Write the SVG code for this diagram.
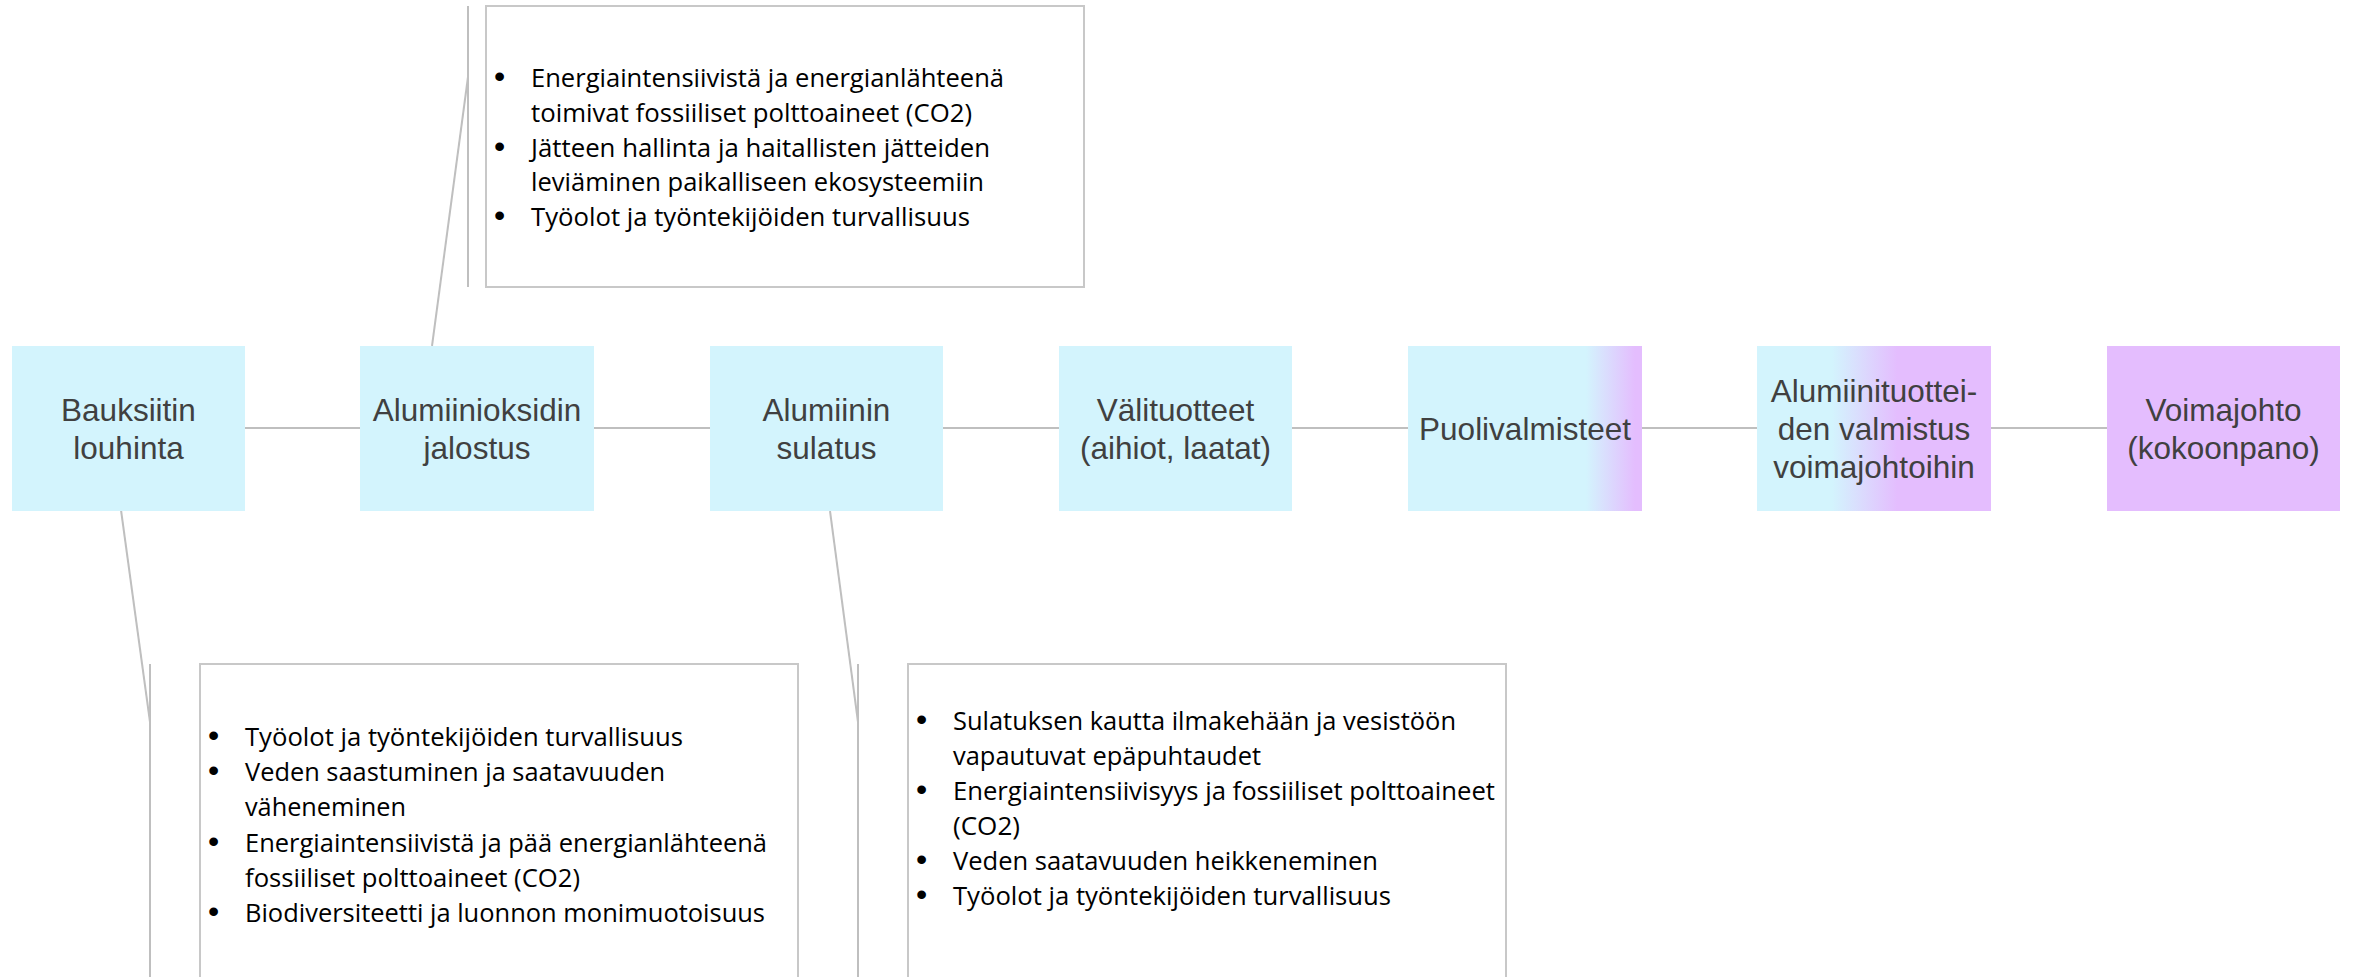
<svg xmlns="http://www.w3.org/2000/svg" width="2354" height="977" viewBox="0 0 2354 977">
<defs>
<linearGradient id="g5" x1="0" y1="0" x2="1" y2="0">
<stop offset="0" stop-color="#D3F4FD"/><stop offset="0.76" stop-color="#D3F4FD"/><stop offset="0.97" stop-color="#E4BDFE"/><stop offset="1" stop-color="#E4BDFE"/>
</linearGradient>
<linearGradient id="g6" x1="0" y1="0" x2="1" y2="0">
<stop offset="0" stop-color="#D3F4FD"/><stop offset="0.32" stop-color="#D3F4FD"/><stop offset="0.6" stop-color="#E4BDFE"/><stop offset="1" stop-color="#E4BDFE"/>
</linearGradient>
<style>
.node{fill:#D3F4FD}
.lbl{font-family:"Liberation Sans",Arial,sans-serif;font-size:31.5px;fill:#404040;text-anchor:middle}
.conn{stroke:#BFBFBF;stroke-width:2;fill:none}
.call{fill:#FFFFFF;stroke:#C8C8C8;stroke-width:2}
.ct{font-family:"Open Sans","Liberation Sans",sans-serif;font-size:25.5px;fill:#000000}
.bul{font-family:"Liberation Sans",Arial,sans-serif;font-size:32px;fill:#000000;text-anchor:middle}
</style>
</defs>
<rect width="2354" height="977" fill="#FFFFFF"/>
<g id="connectors">
<line class="conn" x1="245" y1="428" x2="360" y2="428"/>
<line class="conn" x1="594" y1="428" x2="710" y2="428"/>
<line class="conn" x1="943" y1="428" x2="1059" y2="428"/>
<line class="conn" x1="1292" y1="428" x2="1408" y2="428"/>
<line class="conn" x1="1642" y1="428" x2="1757" y2="428"/>
<line class="conn" x1="1991" y1="428" x2="2107" y2="428"/>
<line class="conn" x1="468" y1="77" x2="432" y2="346"/>
<line class="conn" x1="468" y1="6" x2="468" y2="287"/>
<line class="conn" x1="121" y1="510" x2="150" y2="722"/>
<line class="conn" x1="150" y1="664" x2="150" y2="980"/>
<line class="conn" x1="830" y1="511" x2="858" y2="722"/>
<line class="conn" x1="858" y1="664" x2="858" y2="980"/>
</g>
<g id="n1"><rect class="node" x="12" y="346" width="233" height="165"/>
<text class="lbl" x="128.5" y="420.5">Bauksiitin</text><text class="lbl" x="128.5" y="458.5">louhinta</text></g>
<g id="n2"><rect class="node" x="360" y="346" width="234" height="165"/>
<text class="lbl" x="477" y="420.5">Alumiinioksidin</text><text class="lbl" x="477" y="458.5">jalostus</text></g>
<g id="n3"><rect class="node" x="710" y="346" width="233" height="165"/>
<text class="lbl" x="826.5" y="420.5">Alumiinin</text><text class="lbl" x="826.5" y="458.5">sulatus</text></g>
<g id="n4"><rect class="node" x="1059" y="346" width="233" height="165"/>
<text class="lbl" x="1175.5" y="420.5">Välituotteet</text><text class="lbl" x="1175.5" y="458.5">(aihiot, laatat)</text></g>
<g id="n5"><rect x="1408" y="346" width="234" height="165" fill="url(#g5)"/>
<text class="lbl" x="1525" y="439.5">Puolivalmisteet</text></g>
<g id="n6"><rect x="1757" y="346" width="234" height="165" fill="url(#g6)"/>
<text class="lbl" x="1874" y="401.5">Alumiinituottei-</text><text class="lbl" x="1874" y="439.5">den valmistus</text><text class="lbl" x="1874" y="477.5">voimajohtoihin</text></g>
<g id="n7"><rect x="2107" y="346" width="233" height="165" fill="#E4BDFE"/>
<text class="lbl" x="2223.5" y="420.5">Voimajohto</text><text class="lbl" x="2223.5" y="458.5">(kokoonpano)</text></g>
<g id="callout-top"><rect class="call" x="486" y="6" width="598" height="281"/>
<text class="bul" x="499.5" y="87">•</text>
<text class="ct" x="531" y="87" textLength="473" lengthAdjust="spacingAndGlyphs">Energiaintensiivistä ja energianlähteenä</text>
<text class="ct" x="531" y="122" textLength="441" lengthAdjust="spacingAndGlyphs">toimivat fossiiliset polttoaineet (CO2)</text>
<text class="bul" x="499.5" y="156.7">•</text>
<text class="ct" x="531" y="156.7" textLength="459" lengthAdjust="spacingAndGlyphs">Jätteen hallinta ja haitallisten jätteiden</text>
<text class="ct" x="531" y="191.4" textLength="453" lengthAdjust="spacingAndGlyphs">leviäminen paikalliseen ekosysteemiin</text>
<text class="bul" x="499.5" y="226">•</text>
<text class="ct" x="531" y="226" textLength="439" lengthAdjust="spacingAndGlyphs">Työolot ja työntekijöiden turvallisuus</text>
</g>
<g id="callout-left"><rect class="call" x="200" y="664" width="598" height="400"/>
<text class="bul" x="213.5" y="746">•</text>
<text class="ct" x="245" y="746" textLength="438" lengthAdjust="spacingAndGlyphs">Työolot ja työntekijöiden turvallisuus</text>
<text class="bul" x="213.5" y="781">•</text>
<text class="ct" x="245" y="781" textLength="420" lengthAdjust="spacingAndGlyphs">Veden saastuminen ja saatavuuden</text>
<text class="ct" x="245" y="816" textLength="161" lengthAdjust="spacingAndGlyphs">väheneminen</text>
<text class="bul" x="213.5" y="851.5">•</text>
<text class="ct" x="245" y="851.5" textLength="522" lengthAdjust="spacingAndGlyphs">Energiaintensiivistä ja pää energianlähteenä</text>
<text class="ct" x="245" y="886.5" textLength="335" lengthAdjust="spacingAndGlyphs">fossiiliset polttoaineet (CO2)</text>
<text class="bul" x="213.5" y="921.5">•</text>
<text class="ct" x="245" y="921.5" textLength="520" lengthAdjust="spacingAndGlyphs">Biodiversiteetti ja luonnon monimuotoisuus</text>
</g>
<g id="callout-mid"><rect class="call" x="908" y="664" width="598" height="400"/>
<text class="bul" x="921.5" y="729.5">•</text>
<text class="ct" x="953" y="729.5" textLength="503" lengthAdjust="spacingAndGlyphs">Sulatuksen kautta ilmakehään ja vesistöön</text>
<text class="ct" x="953" y="764.5" textLength="308" lengthAdjust="spacingAndGlyphs">vapautuvat epäpuhtaudet</text>
<text class="bul" x="921.5" y="799.5">•</text>
<text class="ct" x="953" y="799.5" textLength="542" lengthAdjust="spacingAndGlyphs">Energiaintensiivisyys ja fossiiliset polttoaineet</text>
<text class="ct" x="953" y="834.5" textLength="67" lengthAdjust="spacingAndGlyphs">(CO2)</text>
<text class="bul" x="921.5" y="869.5">•</text>
<text class="ct" x="953" y="869.5" textLength="425" lengthAdjust="spacingAndGlyphs">Veden saatavuuden heikkeneminen</text>
<text class="bul" x="921.5" y="904.5">•</text>
<text class="ct" x="953" y="904.5" textLength="438" lengthAdjust="spacingAndGlyphs">Työolot ja työntekijöiden turvallisuus</text>
</g>
</svg>
